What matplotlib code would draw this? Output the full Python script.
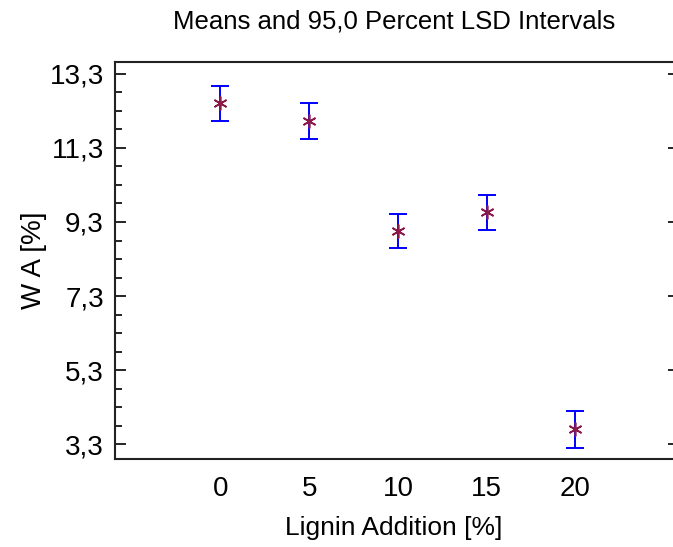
import matplotlib.pyplot as plt
import numpy as np
from matplotlib import font_manager

# Data (means and LSD half-intervals)
lignin_levels = [0, 5, 10, 15, 20]
wa_means = [12.51, 12.03, 9.06, 9.56, 3.70]
lsd_half = [0.47, 0.48, 0.46, 0.47, 0.49]

y_major = [3.3, 5.3, 7.3, 9.3, 11.3, 13.3]
y_labels = ["3,3", "5,3", "7,3", "9,3", "11,3", "13,3"]
x_labels = ["0", "5", "10", "15", "20"]

names = {f.name for f in font_manager.fontManager.ttflist}
family = ["Liberation Sans Narrow", "Liberation Sans", "DejaVu Sans"]
family = [f for f in family if f in names] or ["DejaVu Sans"]
plt.rcParams["font.family"] = family

fig = plt.figure(figsize=(6.73, 5.47), dpi=100)
ax = fig.add_axes([115 / 673, 1 - 459 / 547, 1 - 115 / 673, (459 - 62) / 547])

ax.errorbar(
    lignin_levels,
    wa_means,
    yerr=lsd_half,
    fmt="none",
    ecolor="#0000ff",
    elinewidth=1.4,
    capsize=6.5,
    capthick=1.4,
)
ax.plot(
    lignin_levels,
    wa_means,
    linestyle="none",
    marker=(6, 2, 0),
    markersize=10,
    markeredgewidth=1.2,
    color="#8b1a4a",
)

ax.set_xlim(-5.94, 25.5)
ax.set_ylim(2.9, 13.62)

ax.set_xticks(lignin_levels)
ax.set_xticklabels(x_labels)
ax.set_yticks(y_major)
ax.set_yticklabels(y_labels)
ax.set_yticks(np.arange(3.8, 13.3, 0.5), minor=True)

ax.tick_params(axis="x", length=0, pad=12, labelsize=20)
ax.tick_params(axis="y", which="major", direction="in", length=8, width=1.2,
               pad=8, labelsize=20)
ax.tick_params(axis="y", which="minor", direction="in", length=5, width=1.2)

ax.spines["right"].set_visible(False)
for side in ["left", "bottom", "top"]:
    ax.spines[side].set_linewidth(1.5)
    ax.spines[side].set_color("#222222")

# right-hand ticks, shorter, majors only
ax_r = ax.twinx()
ax_r.set_ylim(ax.get_ylim())
ax_r.set_yticks(y_major)
ax_r.set_yticklabels([])
ax_r.tick_params(axis="y", direction="in", length=3.6, width=1.2)
for side in ax_r.spines:
    ax_r.spines[side].set_visible(False)

ax.set_xlabel("Lignin Addition [%]", fontsize=19, labelpad=10)
ax.set_ylabel("W A [%]", fontsize=20, labelpad=2)
ax.set_title("Means and 95,0 Percent LSD Intervals", fontsize=18.5, pad=24)

fig.savefig("out.png", dpi=100)
plt.close(fig)
